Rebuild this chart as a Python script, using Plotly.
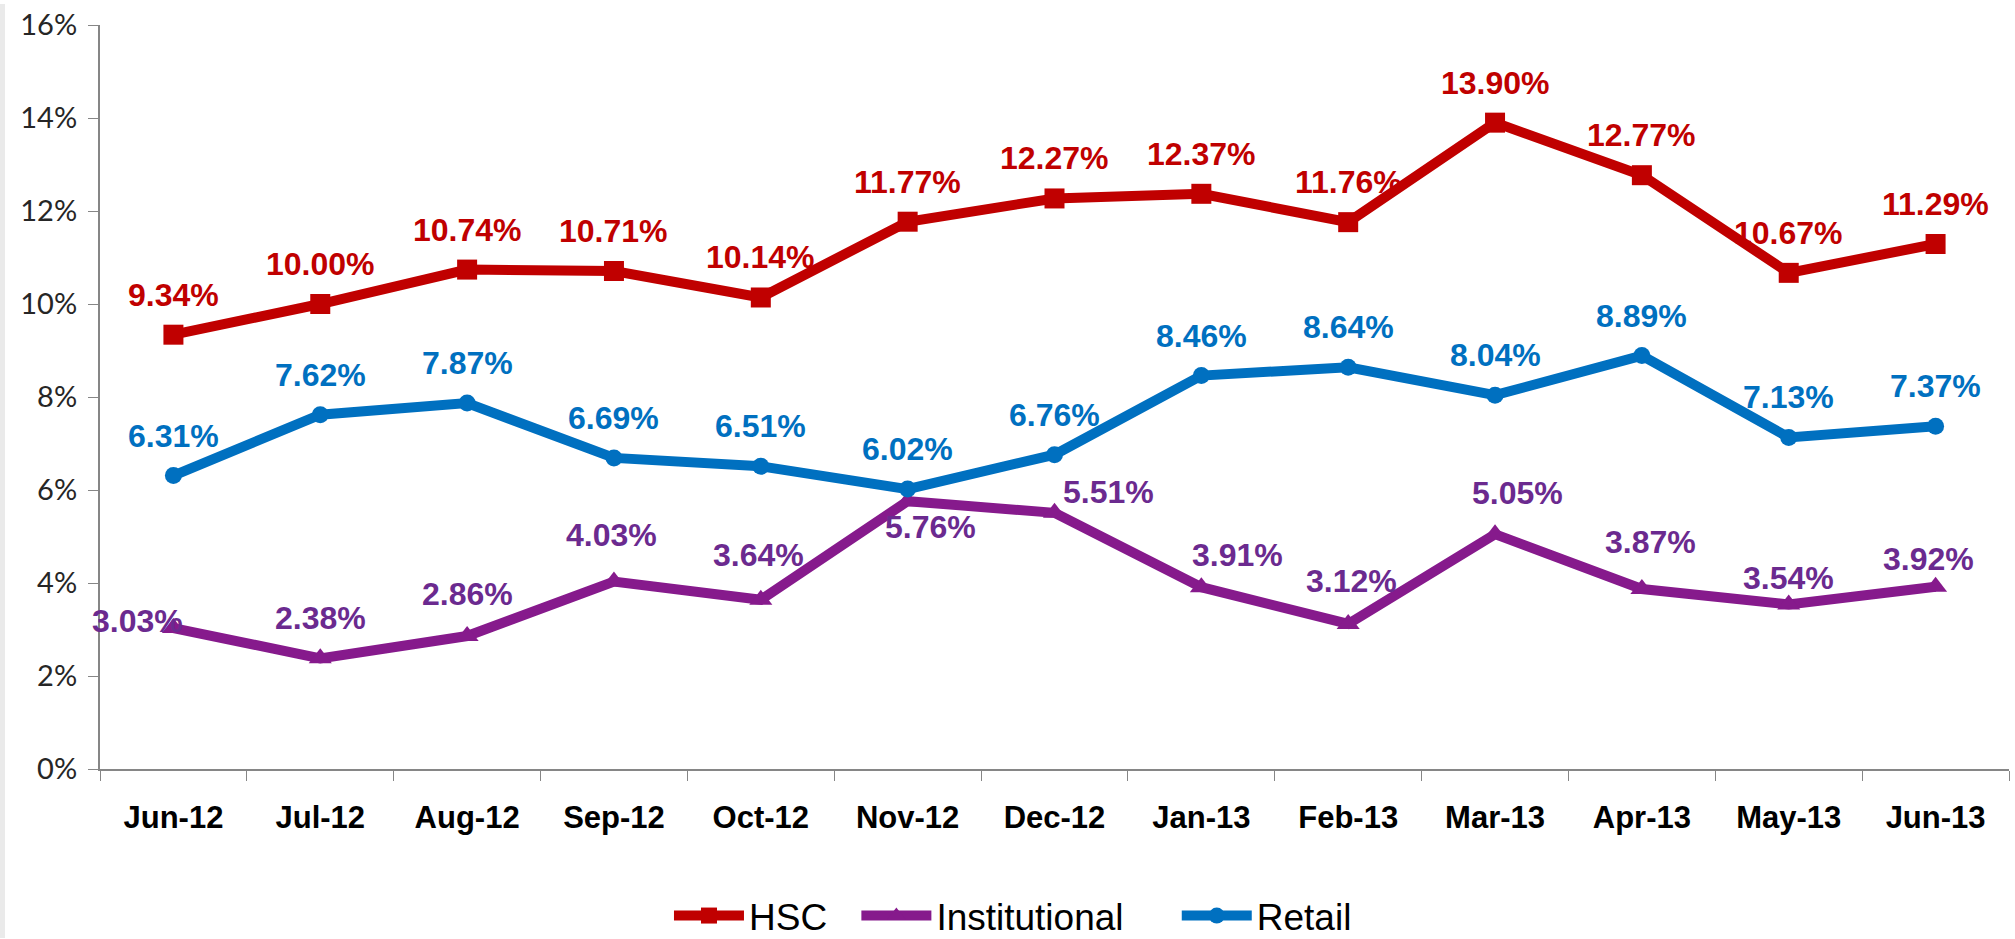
import plotly.graph_objects as go

categories = ['Jun-12', 'Jul-12', 'Aug-12', 'Sep-12', 'Oct-12', 'Nov-12', 'Dec-12',
              'Jan-13', 'Feb-13', 'Mar-13', 'Apr-13', 'May-13', 'Jun-13']
hsc = [9.34, 10.00, 10.74, 10.71, 10.14, 11.77, 12.27, 12.37, 11.76, 13.90, 12.77, 10.67, 11.29]
institutional = [3.03, 2.38, 2.86, 4.03, 3.64, 5.76, 5.51, 3.91, 3.12, 5.05, 3.87, 3.54, 3.92]
retail = [6.31, 7.62, 7.87, 6.69, 6.51, 6.02, 6.76, 8.46, 8.64, 8.04, 8.89, 7.13, 7.37]
y_ticks = [0, 2, 4, 6, 8, 10, 12, 14, 16]

# label offsets in screen pixels (dx right, dy up)
hsc_off = [(0, 40)] * 13
retail_off = [(0, 40)] * 13
inst_off = [(-36, 7), (0, 40), (0, 42), (-2, 47), (-2, 45), (23, -26), (54, 21),
            (36, 32), (3, 43), (22, 41), (9, 47), (0, 26), (-7, 28)]

series = [
    ("HSC", hsc, "#C00000", "#C00000", "square", 20, hsc_off, "legend", 0.332),
    ("Institutional", institutional, "#861A8C", "#6B2A8F", "triangle-up", 20, inst_off, "legend2", 0.425),
    ("Retail", retail, "#0070C0", "#0070C0", "circle", 17, retail_off, "legend3", 0.584),
]

fig = go.Figure()
annotations = []
legends = {}
for name, vals, lc, tc, sym, ms, offs, lg, lx in series:
    fig.add_trace(go.Scatter(
        x=categories, y=vals, name=name, mode="lines+markers",
        line=dict(color=lc, width=10),
        marker=dict(symbol=sym, size=ms, color=lc),
        cliponaxis=False, legend=lg,
    ))
    legends[lg] = dict(
        orientation="h", xref="container", yref="container",
        x=lx, xanchor="left", y=1 - 916 / 939, yanchor="middle",
        font=dict(family="Liberation Sans, Arial", size=37, color="#000000"),
        itemwidth=70, bgcolor="rgba(0,0,0,0)",
    )
    for c, v, (dx, dy) in zip(categories, vals, offs):
        annotations.append(dict(
            x=c, y=v, xref="x", yref="y", text=f"{v:.2f}%", showarrow=False,
            xshift=dx, yshift=dy, xanchor="center", yanchor="middle",
            font=dict(family="Liberation Sans, Arial", size=32, color=tc, weight="bold"),
        ))

fig.update_layout(
    width=2015, height=939, autosize=False,
    paper_bgcolor="white", plot_bgcolor="white",
    margin=dict(l=100, r=6, t=21, b=170),
    annotations=annotations,
    showlegend=True,
    shapes=[dict(type="rect", xref="paper", yref="paper",
                 x0=-100 / 1909, x1=-95 / 1909, y0=-170 / 748, y1=1 + 21 / 748,
                 fillcolor="#EAEAEA", line=dict(width=0), layer="below")],
    xaxis=dict(
        type="category", tickson="boundaries", ticks="outside", ticklen=10,
        tickcolor="#868686", showline=True, linecolor="#868686", linewidth=2,
        showgrid=False, zeroline=False,
        tickfont=dict(family="Liberation Sans, Arial", size=31, color="#000000", weight="bold"),
        ticklabelstandoff=20,
        range=[-0.5, 12.5],
    ),
    yaxis=dict(
        range=[0, 16], tickvals=y_ticks, ticktext=[f"{t}%" for t in y_ticks],
        ticks="outside", ticklen=10, tickcolor="#868686",
        showline=True, linecolor="#868686", linewidth=2,
        showgrid=False, zeroline=False,
        tickfont=dict(family="Lato, Calibri", size=29, color="#262626"),
        ticklabelstandoff=5,
    ),
)
fig.update_layout(**legends)

fig.write_html("out.html")
